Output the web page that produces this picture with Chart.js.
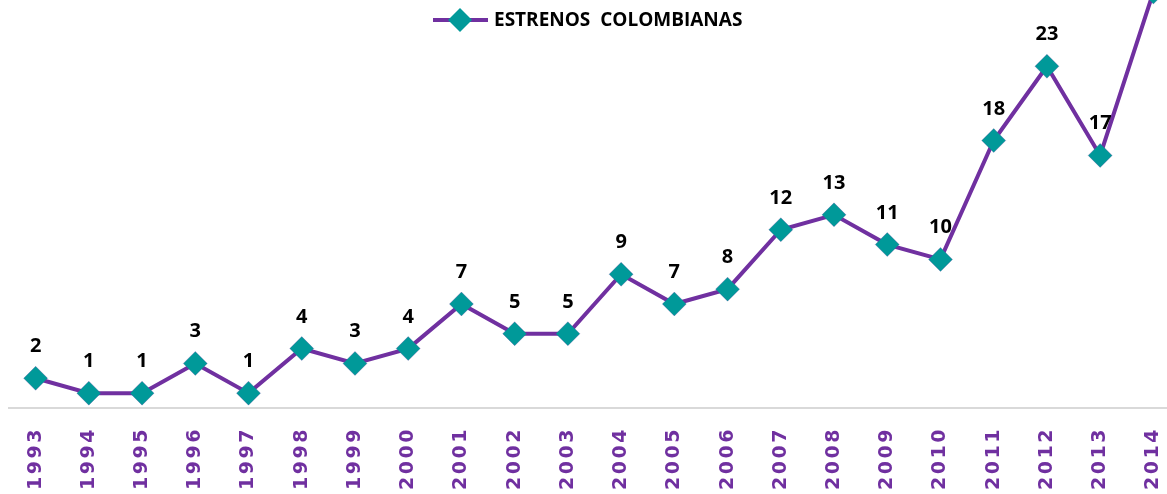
<!DOCTYPE html>
<html>
<head>
<meta charset="utf-8">
<script src="https://cdn.jsdelivr.net/npm/chart.js@4"></script>
<style>
  html, body { margin: 0; padding: 0; background: #fff; overflow: hidden; }
  #wrap { width: 1180px; height: 494px; position: relative; }
</style>
</head>
<body>
<div id="wrap"><canvas id="lineChart"></canvas></div>
<script>
const anios = ['1993','1994','1995','1996','1997','1998','1999','2000','2001','2002','2003',
               '2004','2005','2006','2007','2008','2009','2010','2011','2012','2013','2014'];
const estrenos = [2, 1, 1, 3, 1, 4, 3, 4, 7, 5, 5, 9, 7, 8, 12, 13, 11, 10, 18, 23, 17, 28];
const nombreSerie = 'ESTRENOS  COLOMBIANAS';

const morado = '#7030A0';
const verde = '#009999';

// etiquetas de valor encima de cada punto
const etiquetas = {
    id: 'etiquetas',
    afterDatasetsDraw(chart) {
        const ctx = chart.ctx;
        const meta = chart.getDatasetMeta(0);
        ctx.save();
        ctx.font = 'bold 20px "Open Sans", Lato, sans-serif';
        ctx.fillStyle = '#000';
        ctx.textAlign = 'center';
        ctx.textBaseline = 'alphabetic';
        meta.data.forEach((p, i) => {
            ctx.fillText(estrenos[i], p.x, p.y - 26);
        });
        ctx.restore();
    }
};

// leyenda dibujada a mano: línea + rombo + texto
const leyenda = {
    id: 'leyenda',
    afterDraw(chart) {
        const ctx = chart.ctx;
        ctx.save();
        ctx.strokeStyle = morado;
        ctx.lineWidth = 4;
        ctx.beginPath();
        ctx.moveTo(433, 20);
        ctx.lineTo(488, 20);
        ctx.stroke();
        ctx.fillStyle = verde;
        ctx.beginPath();
        ctx.moveTo(460, 8);
        ctx.lineTo(472, 20);
        ctx.lineTo(460, 32);
        ctx.lineTo(448, 20);
        ctx.closePath();
        ctx.fill();
        ctx.font = 'bold 19px "Open Sans", Lato, sans-serif';
        ctx.fillStyle = '#000';
        ctx.textBaseline = 'middle';
        ctx.fillText(nombreSerie, 494, 21, 264);
        ctx.restore();
    }
};

// espaciado de letras para los años del eje
const espaciado = {
    id: 'espaciado',
    beforeDraw(chart) { chart.ctx.letterSpacing = '2.5px'; },
    beforeDatasetsDraw(chart) { chart.ctx.letterSpacing = '0px'; }
};

const ctx = document.getElementById('lineChart').getContext('2d');
new Chart(ctx, {
    type: 'line',
    data: {
        labels: anios,
        datasets: [{
            label: nombreSerie,
            data: estrenos,
            borderColor: morado,
            borderWidth: 4,
            tension: 0,
            fill: false,
            clip: false,
            pointStyle: 'rectRot',
            pointRadius: 12,
            pointHoverRadius: 12,
            pointBackgroundColor: verde,
            pointBorderColor: 'rgba(112,48,160,0.25)',
            pointBorderWidth: 1
        }]
    },
    options: {
        responsive: true,
        maintainAspectRatio: false,
        animation: false,
        layout: { autoPadding: false, padding: { left: 9, right: 0, top: 0, bottom: 0 } },
        plugins: {
            legend: { display: false },
            tooltip: { enabled: false }
        },
        scales: {
            x: {
                offset: true,
                grid: { display: false, drawTicks: false },
                border: { display: true, color: '#d9d9d9', width: 2 },
                ticks: {
                    color: morado,
                    font: { family: '"DejaVu Sans", Verdana, sans-serif', size: 19, weight: 'bold' },
                    minRotation: 90,
                    maxRotation: 90,
                    padding: 19,
                    autoSkip: false
                },
                afterFit(scale) {
                    scale.height = 86;
                    scale.paddingLeft = 0;
                    scale.paddingRight = 0;
                }
            },
            y: {
                display: false,
                min: 0,
                max: 27.46
            }
        }
    },
    plugins: [etiquetas, leyenda, espaciado]
});
</script>
</body>
</html>
